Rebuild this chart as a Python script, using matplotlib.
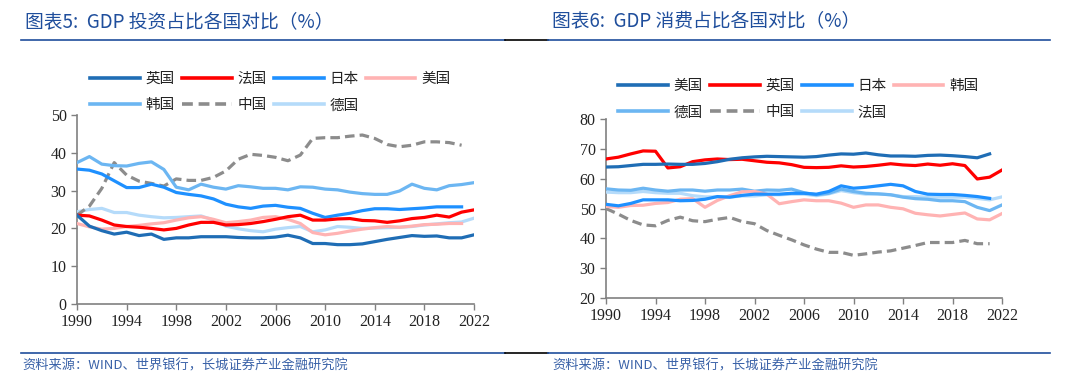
import matplotlib
matplotlib.use('Agg')
import matplotlib.pyplot as plt
from matplotlib.lines import Line2D
import numpy as np

years = np.arange(1990, 2023)

# 图表5: GDP 投资占比 (%)
inv_uk = [23.5, 20.6, 19.4, 18.5, 19.0, 18.1, 18.5, 17.1, 17.5, 17.5, 17.8, 17.8, 17.8, 17.6, 17.5, 17.5,
          17.7, 18.2, 17.5, 16.0, 16.0, 15.7, 15.7, 15.9, 16.5, 17.1, 17.6, 18.1, 17.9, 18.0, 17.5, 17.5, 18.3]
inv_fr = [23.5, 23.3, 22.2, 20.9, 20.5, 20.3, 20.0, 19.6, 20.0, 20.9, 21.6, 21.6, 20.9, 21.0, 21.3, 21.8,
          22.4, 23.1, 23.5, 22.2, 22.2, 22.5, 22.6, 22.1, 22.0, 21.6, 22.0, 22.6, 22.9, 23.5, 23.0, 24.3, 24.9]
inv_jp = [35.7, 35.4, 34.4, 32.6, 30.8, 30.8, 31.7, 30.9, 29.5, 29.0, 28.6, 27.8, 26.4, 25.7, 25.3, 25.9,
          26.1, 25.6, 25.3, 24.0, 22.9, 23.5, 24.0, 24.7, 25.2, 25.2, 25.0, 25.2, 25.4, 25.7, 25.7, 25.7, np.nan]
inv_us = [21.3, 20.4, 19.8, 20.0, 20.5, 20.8, 21.2, 21.5, 22.2, 22.8, 23.1, 22.4, 21.5, 21.8, 22.2, 22.9,
          23.1, 22.4, 21.3, 18.9, 18.3, 18.7, 19.3, 19.8, 20.2, 20.5, 20.3, 20.6, 21.0, 21.1, 21.3, 21.3, np.nan]
inv_kr = [37.4, 39.0, 37.0, 36.6, 36.5, 37.2, 37.6, 35.6, 30.9, 30.2, 31.7, 30.9, 30.4, 31.3, 31.0, 30.6,
          30.6, 30.2, 31.0, 30.9, 30.4, 30.2, 29.6, 29.2, 29.0, 29.0, 29.9, 31.7, 30.6, 30.2, 31.3, 31.6, 32.1]
inv_cn = [23.5, 25.9, 30.6, 37.4, 34.1, 32.5, 31.9, 31.2, 33.1, 32.7, 32.7, 33.5, 35.2, 38.3, 39.6, 39.3,
          38.8, 37.9, 39.4, 43.8, 44.0, 44.0, 44.4, 44.7, 43.8, 42.2, 41.6, 42.0, 42.9, 42.9, 42.7, 42.0, np.nan]
inv_de = [24.4, 25.0, 25.3, 24.2, 24.2, 23.5, 23.1, 22.8, 22.9, 23.1, 23.3, 22.2, 20.6, 19.9, 19.4, 19.1,
          19.8, 20.2, 20.5, 19.1, 19.6, 20.5, 20.3, 20.0, 20.1, 20.2, 20.3, 20.5, 20.9, 21.2, 21.5, 21.7, 22.7]

# 图表6: GDP 消费占比 (%)
con_us = [63.9, 64.0, 64.4, 64.8, 64.8, 64.9, 64.8, 64.8, 65.1, 65.7, 66.5, 67.0, 67.3, 67.5, 67.4, 67.3,
          67.2, 67.4, 67.9, 68.3, 68.2, 68.6, 68.0, 67.6, 67.6, 67.5, 67.8, 67.9, 67.7, 67.4, 67.0, 68.3, np.nan]
con_uk = [66.6, 67.2, 68.3, 69.3, 69.2, 63.6, 64.0, 65.7, 66.3, 66.6, 66.4, 66.5, 66.0, 65.5, 65.3, 64.7,
          63.8, 63.7, 63.8, 64.3, 63.9, 64.1, 64.5, 65.0, 64.6, 64.4, 64.9, 64.5, 65.0, 64.4, 59.9, 60.5, 62.9]
con_jp = [51.4, 50.9, 51.7, 52.9, 52.9, 52.9, 52.6, 52.7, 53.1, 54.0, 53.8, 54.4, 54.8, 54.8, 54.8, 55.1,
          55.1, 54.8, 55.7, 57.6, 56.8, 57.1, 57.6, 58.1, 57.6, 55.7, 54.8, 54.7, 54.7, 54.4, 54.0, 53.4, np.nan]
con_kr = [50.7, 50.4, 51.0, 51.1, 51.7, 52.0, 53.1, 53.3, 50.4, 52.7, 54.3, 55.6, 55.7, 54.8, 51.6, 52.3,
          52.9, 52.6, 52.6, 51.8, 50.4, 51.2, 51.2, 50.4, 49.9, 48.4, 47.9, 47.5, 48.0, 48.5, 46.5, 46.2, 48.3]
con_de = [56.6, 56.2, 56.1, 56.8, 56.2, 55.8, 56.2, 56.2, 55.8, 56.2, 56.2, 56.5, 55.8, 56.2, 56.1, 56.5,
          55.3, 54.6, 55.1, 56.5, 55.7, 55.1, 54.9, 54.6, 53.8, 53.3, 53.1, 52.6, 52.6, 52.3, 50.4, 49.3, 51.2]
con_cn = [50.0, 48.1, 46.0, 44.5, 44.2, 46.0, 47.1, 45.9, 45.6, 46.4, 47.0, 45.6, 44.9, 42.6, 41.0, 39.5,
          37.8, 36.4, 35.3, 35.3, 34.3, 34.8, 35.4, 35.8, 36.7, 37.6, 38.6, 38.6, 38.6, 39.3, 38.2, 38.2, np.nan]
con_fr = [55.5, 55.3, 55.3, 55.7, 55.3, 55.1, 55.1, 54.3, 53.9, 53.9, 53.8, 54.2, 54.2, 54.6, 54.6, 54.8,
          54.8, 54.3, 54.9, 56.0, 55.3, 54.8, 54.9, 54.6, 54.0, 54.0, 53.8, 53.8, 53.8, 53.8, 53.4, 52.9, 53.9]

xticks = list(range(1990, 2023, 4))

# colours by legend position (same palette in both panels)
palette = ['#1f6db5', '#ff0000', '#1e90ff', '#ffb3b3', '#6cb6f2', '#8c8c8c', '#b5dbfa']
styles = ['-', '-', '-', '-', '-', '--', '-']
dark = '#1f4e9c'

cjk = ['Noto Sans CJK SC', 'DejaVu Sans']
serif = 'Liberation Serif'

fig = plt.figure(figsize=(10.8, 3.88), dpi=100)


def panel(rect, series, names, ylim, yticks, legend_xy):
    ax = fig.add_axes(rect)
    for i, s in enumerate(series):
        ax.plot(years, s, color=palette[i], linestyle=styles[i], linewidth=2.3,
                dashes=(3, 1.6) if styles[i] == '--' else (None, None), zorder=10 - i)
    ax.set_xlim(1990, 2022)
    ax.set_ylim(*ylim)
    ax.set_xticks(xticks)
    ax.set_yticks(yticks)
    ax.tick_params(axis='both', direction='out', length=4, width=1, color='#808080',
                   labelsize=11.5, labelcolor='#222222')
    for lab in ax.get_xticklabels() + ax.get_yticklabels():
        lab.set_family(serif)
    ax.spines['right'].set_visible(False)
    ax.spines['top'].set_visible(False)
    for sp in ['left', 'bottom']:
        ax.spines[sp].set_color('#808080')
        ax.spines[sp].set_linewidth(1.2)
    ax.patch.set_alpha(0)

    handles = [Line2D([], [], color=palette[i], linestyle=styles[i], linewidth=2.6,
                      dashes=(3, 1.6) if styles[i] == '--' else (None, None))
               for i in range(len(names))]
    # legend fills column by column: reorder so it reads row by row
    order = [0, 4, 1, 5, 2, 6, 3]
    leg = ax.legend([handles[k] for k in order], [names[k] for k in order],
                    loc='upper left', bbox_to_anchor=legend_xy,
                    bbox_transform=fig.transFigure, ncol=4, frameon=False,
                    prop={'family': cjk, 'size': 10.5}, handlelength=3.4,
                    handletextpad=0.4, columnspacing=0.5, labelspacing=0.85,
                    borderpad=0, borderaxespad=0)
    for t in leg.get_texts():
        t.set_color('#222222')
    return ax


panel([77 / 1080, 1 - 304 / 388, 397 / 1080, 189 / 388],
      [inv_uk, inv_fr, inv_jp, inv_us, inv_kr, inv_cn, inv_de],
      ['英国', '法国', '日本', '美国', '韩国', '中国', '德国'],
      (0, 50), range(0, 51, 10), (90 / 1080, 1 - 72 / 388))

panel([606 / 1080, 1 - 298 / 388, 396 / 1080, 179 / 388],
      [con_us, con_uk, con_jp, con_kr, con_de, con_cn, con_fr],
      ['美国', '英国', '日本', '韩国', '德国', '中国', '法国'],
      (20, 80), range(20, 81, 10), (618 / 1080, 1 - 79 / 388))

# titles
fig.text(25 / 1080, 1 - 22 / 388, '图表5:  GDP 投资占比各国对比（%）', family=cjk,
         fontsize=13.5, color=dark, va='center', ha='left')
fig.text(552 / 1080, 1 - 22 / 388, '图表6:  GDP 消费占比各国对比（%）', family=cjk,
         fontsize=13.5, color=dark, va='center', ha='left')

# rules under titles and above sources
for y in [1 - 40 / 388, 1 - 353 / 388]:
    fig.add_artist(Line2D([21 / 1080, 505 / 1080], [y, y], color=dark, linewidth=1.2))
    fig.add_artist(Line2D([505 / 1080, 548 / 1080], [y, y], color='#000000', linewidth=1.2))
    fig.add_artist(Line2D([548 / 1080, 1050 / 1080], [y, y], color=dark, linewidth=1.2))

src = '资料来源：WIND、世界银行，长城证券产业金融研究院'
fig.text(22 / 1080, 1 - 366 / 388, src, family=cjk, fontsize=9.5, color='#3a62a8',
         va='center', ha='left')
fig.text(552 / 1080, 1 - 366 / 388, src, family=cjk, fontsize=9.5, color='#3a62a8',
         va='center', ha='left')

fig.savefig('out.png', dpi=100)
